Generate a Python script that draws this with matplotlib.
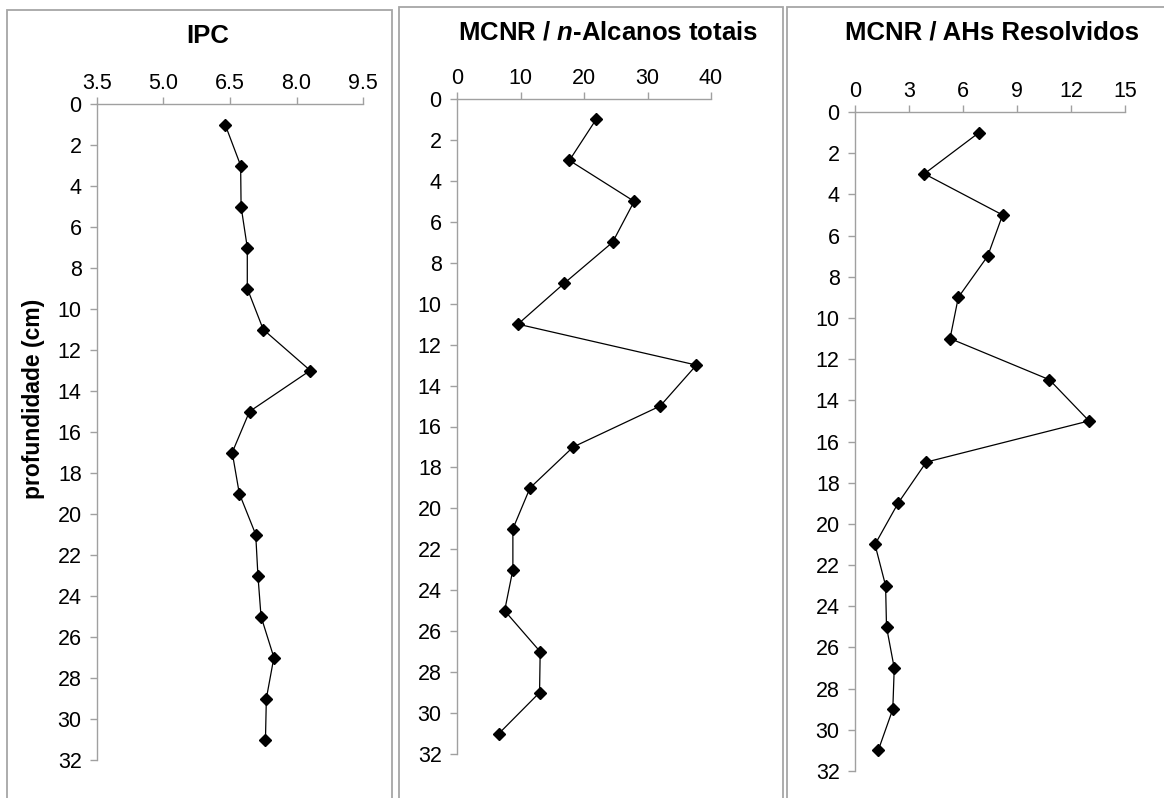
import numpy as np
import matplotlib
matplotlib.use('Agg')
import matplotlib.pyplot as plt
from matplotlib.patches import Rectangle
from matplotlib.ticker import FormatStrFormatter

plt.rcParams['font.family'] = ['Liberation Sans', 'DejaVu Sans']
plt.rcParams['mathtext.fontset'] = 'custom'
plt.rcParams['mathtext.it'] = 'Liberation Sans:italic:bold'
plt.rcParams['mathtext.rm'] = 'Liberation Sans:bold'

# profundidade (cm)
depth = [1, 3, 5, 7, 9, 11, 13, 15, 17, 19, 21, 23, 25, 27, 29, 31]

ipc = [6.39, 6.74, 6.75, 6.89, 6.89, 7.25, 8.31, 6.94,
       6.55, 6.71, 7.08, 7.13, 7.20, 7.49, 7.32, 7.30]
mcnr_alcanos = [21.9, 17.7, 27.9, 24.5, 16.9, 9.6, 37.7, 32.0,
                18.3, 11.5, 8.8, 8.8, 7.5, 13.1, 13.0, 6.6]
mcnr_ahs = [6.89, 3.85, 8.2, 7.37, 5.74, 5.28, 10.8, 13.0,
            3.96, 2.39, 1.11, 1.70, 1.75, 2.18, 2.10, 1.29]

titles = ['IPC', 'MCNR / $n$-Alcanos totais', 'MCNR / AHs Resolvidos']
xlims = [(3.5, 9.5), (0, 40), (0, 15)]
xticks = [np.arange(3.5, 9.6, 1.5), np.arange(0, 41, 10), np.arange(0, 16, 3)]
xfmt = ['%.1f', '%d', '%d']

W, H = 1164, 798
fig = plt.figure(figsize=(W / 100, H / 100), dpi=100)

# axes boxes in pixels: left, top, right, bottom
boxes = [(97, 104, 363, 760), (457, 99, 711, 754), (855, 112, 1125, 771)]
frames = [(7, 10, 392, 820), (399, 7, 783, 820), (787, 7, 1180, 820)]
title_pos = [(208, 36), (608, 33), (992, 33)]

gray = '#a0a0a0'
for fx0, fy0, fx1, fy1 in frames:
    fig.patches.append(Rectangle((fx0 / W, 1 - fy1 / H), (fx1 - fx0) / W, (fy1 - fy0) / H,
                                 transform=fig.transFigure, fill=False,
                                 edgecolor='#a6a6a6', lw=1.3))

data = [ipc, mcnr_alcanos, mcnr_ahs]
for i in range(3):
    x0, y0, x1, y1 = boxes[i]
    ax = fig.add_axes([x0 / W, 1 - y1 / H, (x1 - x0) / W, (y1 - y0) / H])
    ax.plot(data[i], depth, color='black', lw=0.9, marker='D', ms=6.5,
            mfc='black', mec='black', clip_on=False)
    ax.set_xlim(*xlims[i])
    ax.set_ylim(32, 0)
    ax.set_xticks(xticks[i])
    ax.xaxis.set_major_formatter(FormatStrFormatter(xfmt[i]))
    ax.set_yticks(np.arange(0, 33, 2))
    ax.xaxis.tick_top()
    for s in ['right', 'bottom']:
        ax.spines[s].set_visible(False)
    for s in ['left', 'top']:
        ax.spines[s].set_color(gray)
        ax.spines[s].set_linewidth(1.0)
    ax.tick_params(axis='both', colors=gray, labelcolor='black', labelsize=15.5,
                   length=5, width=1.0, direction='out')
    ax.tick_params(axis='x', pad=2)
    ax.tick_params(axis='y', pad=6)
    tx, ty = title_pos[i]
    fig.text(tx / W, 1 - ty / H, titles[i], ha='center', va='center',
             fontsize=18.5, fontweight='bold')

fig.text(34 / W, 1 - 399 / H, 'profundidade (cm)', rotation=90, ha='center',
         va='center', fontsize=16.5, fontweight='bold')

plt.savefig('out.png', dpi=100)
plt.close()
